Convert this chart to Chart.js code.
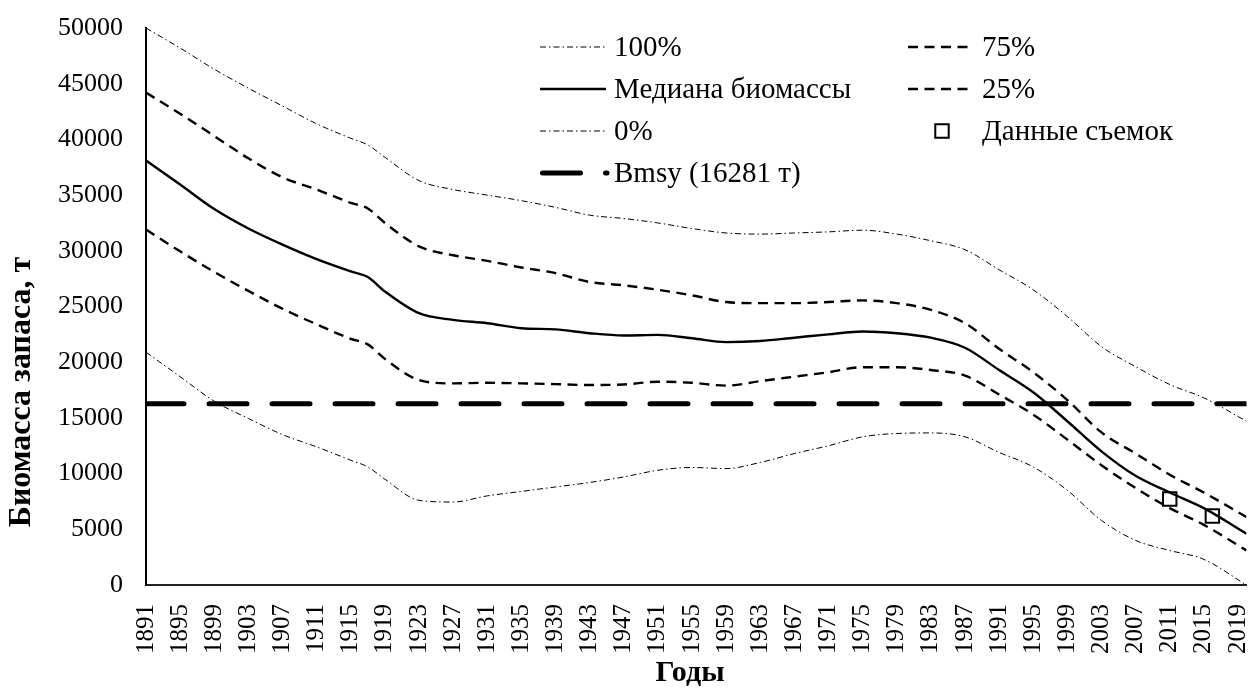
<!DOCTYPE html>
<html>
<head>
<meta charset="utf-8">
<script src="https://cdn.jsdelivr.net/npm/chart.js@4"></script>
<style>
  html, body { margin: 0; padding: 0; background: #fff; }
  #wrap { width: 1258px; height: 688px; }
</style>
</head>
<body>
<div id="wrap"><canvas id="c" width="1258" height="688"></canvas></div>
<script>
// ---- Data ----
const years = [1891, 1895, 1899, 1903, 1907, 1911, 1915, 1917, 1919, 1923, 1927, 1931, 1935, 1939, 1943, 1947, 1951, 1955, 1959, 1963, 1967, 1971, 1975, 1979, 1983, 1987, 1991, 1995, 1999, 2003, 2007, 2011, 2015, 2020];

const p100 = [50000, 48200, 46300, 44600, 43000, 41400, 40100, 39500, 38400, 36300, 35500, 35000, 34500, 33900, 33200, 32900, 32500, 32000, 31600, 31500, 31600, 31700, 31850, 31500, 30900, 30100, 28300, 26500, 24100, 21400, 19600, 18000, 16800, 14700];
const p75 = [44200, 42300, 40300, 38300, 36600, 35500, 34300, 33800, 32500, 30400, 29600, 29100, 28500, 28000, 27200, 26900, 26500, 26000, 25400, 25300, 25300, 25400, 25550, 25300, 24700, 23500, 21200, 19100, 16600, 13700, 11800, 9900, 8300, 6100];
const median = [38100, 35950, 33750, 32000, 30550, 29250, 28150, 27650, 26350, 24400, 23800, 23500, 23050, 22950, 22600, 22400, 22450, 22150, 21800, 21900, 22200, 22500, 22750, 22600, 22200, 21300, 19300, 17300, 14700, 12000, 9800, 8300, 6900, 4600];
const p25 = [31900, 29950, 28100, 26400, 24800, 23400, 22100, 21600, 20300, 18400, 18100, 18150, 18100, 18030, 17950, 18000, 18250, 18150, 17900, 18300, 18700, 19100, 19550, 19550, 19300, 18800, 17100, 15300, 13050, 10750, 8700, 6900, 5400, 3100];
const p0 = [20900, 18700, 16500, 14950, 13500, 12400, 11200, 10600, 9500, 7600, 7450, 8000, 8400, 8800, 9200, 9700, 10300, 10550, 10450, 11000, 11800, 12500, 13300, 13600, 13650, 13300, 11900, 10600, 8500, 5800, 4000, 3100, 2300, 0];

const surveyYears = [2011, 2016];
const surveyValues = [7720, 6190];

const bmsyYears = [1891, 2020];
const bmsyValue = 16281;

const tickYears = [1891, 1895, 1899, 1903, 1907, 1911, 1915, 1919, 1923, 1927, 1931, 1935, 1939, 1943, 1947, 1951, 1955, 1959, 1963, 1967, 1971, 1975, 1979, 1983, 1987, 1991, 1995, 1999, 2003, 2007, 2011, 2015, 2019];

const labels = {
  p100: '100%', p75: '75%', median: 'Медиана биомассы', p25: '25%', p0: '0%',
  survey: 'Данные съемок', bmsy: 'Bmsy (16281 т)',
  xTitle: 'Годы', yTitle: 'Биомасса запаса, т'
};

// ---- Helpers ----
const pairs = (xs, ys) => xs.map((x, i) => ({ x: x, y: ys[i] }));
const FONT = "'Liberation Serif', 'Times New Roman', serif";

// ---- Custom two-column legend + axis titles ----
const gridLegend = {
  id: 'gridLegend',
  afterDraw(chart, args, opts) {
    const ctx = chart.ctx;
    const ca = chart.chartArea;
    const dsets = chart.data.datasets;
    ctx.save();
    ctx.font = opts.fontSize + 'px ' + FONT;
    ctx.fillStyle = '#000';
    ctx.textBaseline = 'middle';
    ctx.textAlign = 'left';
    dsets.forEach((ds, i) => {
      const col = i % 2, row = Math.floor(i / 2);
      const sx = ca.left + opts.colX[col];
      const sy = ca.top + opts.rowY0 + row * opts.rowH;
      const sw = opts.sampleW;
      if (ds.showLine === false) {
        const r = ds.pointRadius * Math.SQRT1_2;
        ctx.save();
        ctx.lineWidth = ds.pointBorderWidth;
        ctx.strokeStyle = ds.pointBorderColor;
        ctx.beginPath();
        ctx.rect(sx + opts.markerX - r, sy - r, 2 * r, 2 * r);
        ctx.stroke();
        ctx.restore();
      } else {
        ctx.save();
        ctx.lineWidth = ds.borderWidth;
        ctx.strokeStyle = ds.borderColor;
        ctx.setLineDash(ds.borderDash || []);
        ctx.lineCap = ds.borderCapStyle || 'butt';
        const pad = ds.borderCapStyle === 'round' ? ds.borderWidth / 2 : 0;
        ctx.beginPath();
        ctx.moveTo(sx + pad, sy);
        ctx.lineTo(sx + sw + (pad ? 1 : 0), sy);
        ctx.stroke();
        ctx.restore();
      }
      ctx.fillStyle = '#000';
      ctx.fillText(ds.label, sx + sw + opts.textGap, sy + 1);
    });
    // axis titles
    const t = opts.titles;
    ctx.font = 'bold ' + t.ySize + 'px ' + FONT;
    ctx.textAlign = 'center';
    ctx.textBaseline = 'middle';
    ctx.save();
    ctx.translate(t.yX, t.yY);
    ctx.rotate(-Math.PI / 2);
    ctx.fillText(labels.yTitle, 0, 0);
    ctx.restore();
    ctx.font = 'bold ' + t.xSize + 'px ' + FONT;
    ctx.fillText(labels.xTitle, t.xX, t.xY);
    ctx.restore();
  }
};

const dashDot = [6, 3, 1.5, 3];
const dashed = [10, 6.5];

const ctx = document.getElementById('c').getContext('2d');
new Chart(ctx, {
  type: 'line',
  data: {
    datasets: [
      { label: labels.p100, data: pairs(years, p100), borderColor: '#000', borderWidth: 1, borderDash: dashDot, pointRadius: 0, cubicInterpolationMode: 'monotone', fill: false },
      { label: labels.p75, data: pairs(years, p75), borderColor: '#000', borderWidth: 2.4, borderDash: dashed, pointRadius: 0, cubicInterpolationMode: 'monotone', fill: false },
      { label: labels.median, data: pairs(years, median), borderColor: '#000', borderWidth: 2.4, pointRadius: 0, cubicInterpolationMode: 'monotone', fill: false },
      { label: labels.p25, data: pairs(years, p25), borderColor: '#000', borderWidth: 2.4, borderDash: dashed, pointRadius: 0, cubicInterpolationMode: 'monotone', fill: false },
      { label: labels.p0, data: pairs(years, p0), borderColor: '#000', borderWidth: 1, borderDash: dashDot, pointRadius: 0, cubicInterpolationMode: 'monotone', fill: false },
      { label: labels.survey, data: pairs(surveyYears, surveyValues), showLine: false, pointStyle: 'rect', pointRadius: 9.5, pointBorderWidth: 2, pointBorderColor: '#000', pointBackgroundColor: 'rgba(255,255,255,0)', borderColor: '#000', backgroundColor: 'rgba(255,255,255,0)' },
      { label: labels.bmsy, data: bmsyYears.map(y => ({ x: y, y: bmsyValue })), borderColor: '#000', borderWidth: 5, borderDash: [38, 25], borderCapStyle: 'round', pointRadius: 0, fill: false }
    ]
  },
  options: {
    responsive: false,
    animation: false,
    devicePixelRatio: 1,
    layout: { padding: { top: 28, right: 5, bottom: 0, left: 0 } },
    plugins: {
      legend: { display: false },
      tooltip: { enabled: false },
      gridLegend: {
        colX: [394, 762], rowY0: 19, rowH: 42, sampleW: 66, textGap: 8, fontSize: 29, markerX: 34,
        titles: { ySize: 32, yX: 22, yY: 392, xSize: 30, xX: 690, xY: 673 }
      }
    },
    scales: {
      x: {
        type: 'linear',
        min: 1891,
        max: 2020,
        afterBuildTicks: (axis) => { axis.ticks = tickYears.map(v => ({ value: v })); },
        afterFit: (s) => { s.height = 103; s.paddingLeft = 0; s.paddingRight = 0; },
        grid: { display: false, drawTicks: false },
        border: { display: true, color: '#222', width: 2 },
        ticks: {
          autoSkip: false, minRotation: 90, maxRotation: 90, padding: 19,
          color: '#000', font: { family: FONT, size: 25 },
          callback: (v) => String(v)
        },
        title: { display: false, text: labels.xTitle }
      },
      y: {
        min: 0,
        max: 50000,
        afterFit: (s) => { s.width = 146; s.paddingTop = 0; s.paddingBottom = 0; },
        grid: { display: false, drawTicks: false },
        border: { display: true, color: '#000', width: 2 },
        ticks: {
          stepSize: 5000, padding: 23,
          color: '#000', font: { family: FONT, size: 26 },
          callback: (v) => String(v)
        },
        title: { display: false, text: labels.yTitle }
      }
    }
  },
  plugins: [gridLegend]
});
</script>
</body>
</html>
